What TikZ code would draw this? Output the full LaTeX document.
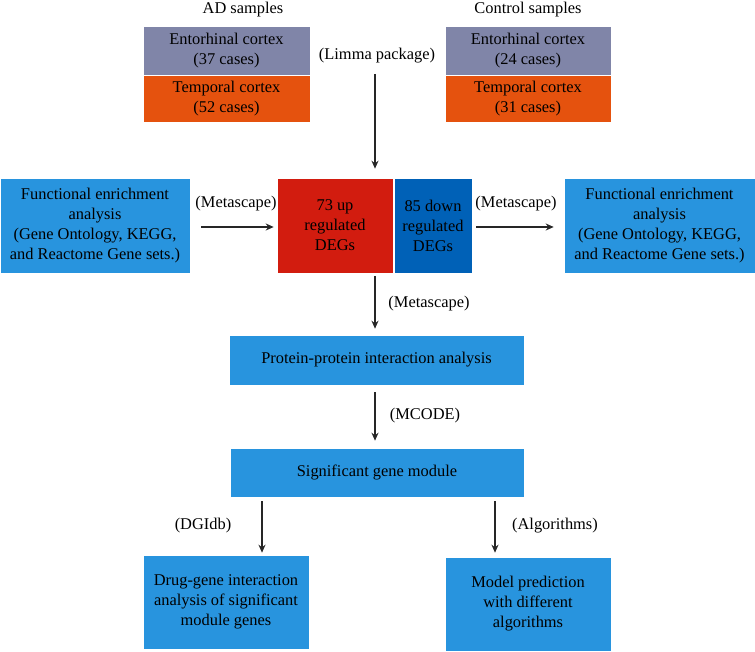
\documentclass[tikz,border=0pt]{standalone}
\usepackage{fontspec}
\setmainfont{Liberation Serif}
\usetikzlibrary{arrows.meta,calc}
\definecolor{purp}{HTML}{8085A8}
\definecolor{orng}{HTML}{E5520E}
\definecolor{lblue}{HTML}{2894DE}
\definecolor{redb}{HTML}{D21C0F}
\definecolor{dblue}{HTML}{0061B7}
\tikzset{
  box/.style={draw=white, line width=0.6pt, inner sep=0pt, align=center, font=\fontsize{16.4}{20}\selectfont},
  lab/.style={inner sep=0pt, font=\fontsize{16.4}{20}\selectfont},
  arr/.style={draw=black!85, line width=1.1pt, -{Stealth[length=8pt,width=7pt]}}
}
\begin{document}
\begin{tikzpicture}[x=1pt,y=-1pt]
\useasboundingbox (0,0) rectangle (755,652);
% headers
\node[lab] (adlab) at (243,10) {AD samples};
\node[lab] (ctllab) at (528,10) {Control samples};
% sample boxes
\node[box, fill=purp, minimum width=167pt, minimum height=49pt] (ade) at (226.5,51) {Entorhinal cortex\\(37 cases)};
\node[box, fill=orng, minimum width=167pt, minimum height=47pt] (adt) at (226.5,98.5) {Temporal cortex\\(52 cases)};
\node[box, fill=purp, minimum width=166pt, minimum height=49pt] (cte) at (528,51) {Entorhinal cortex\\(24 cases)};
\node[box, fill=orng, minimum width=166pt, minimum height=47pt] (ctt) at (528,98.5) {Temporal cortex\\(31 cases)};
\node[lab] (limma) at (377,56) {(Limma package)};
% middle row
\node[box, fill=lblue, minimum width=190pt, minimum height=95pt] (lf) at (95,225.5) {Functional enrichment\\analysis\\(Gene Ontology, KEGG,\\and Reactome Gene sets.)};
\node[box, fill=redb, minimum width=116pt, minimum height=95pt] (up) at (335,225.5) {73 up\\regulated\\DEGs};
\node[box, fill=dblue, minimum width=78pt, minimum height=95pt] (down) at (433,225.5) {85 down\\regulated\\DEGs};
\node[box, fill=lblue, minimum width=191pt, minimum height=95pt] (rf) at (659.5,225.5) {Functional enrichment\\analysis\\(Gene Ontology, KEGG,\\and Reactome Gene sets.)};
\node[lab] (ml) at (236,204) {(Metascape)};
\node[lab] (mr) at (516,204) {(Metascape)};
% lower chain
\node[box, fill=lblue, minimum width=295pt, minimum height=50pt] (ppi) at (376.5,360) {Protein-protein interaction analysis};
\node[box, fill=lblue, minimum width=294pt, minimum height=49pt] (sgm) at (377,472.5) {Significant gene module};
\node[box, fill=lblue, minimum width=166pt, minimum height=94pt] (dg) at (226,602) {Drug-gene interaction\\analysis of significant\\module genes};
\node[box, fill=lblue, minimum width=166pt, minimum height=94pt] (mp) at (528,604) {Model prediction\\with different\\algorithms};
\node[lab] (mc) at (429,304) {(Metascape)};
\node[lab] (mcode) at (425,416) {(MCODE)};
\node[lab] (dgi) at (203,526) {(DGIdb)};
\node[lab] (alg) at (555,526) {(Algorithms)};
% connectors
\coordinate (a0) at (375,74);
\draw[arr, shorten >=9pt] (a0) -- (a0 |- up.north);
\draw[arr, shorten <=11pt, shorten >=3pt] (lf.east |- 0,227) -- (up.west |- 0,227);
\draw[arr, shorten <=4pt, shorten >=10pt] (down.east |- 0,227) -- (rf.west |- 0,227);
\coordinate (a1) at (375,276);
\draw[arr, shorten >=6pt] (a1) -- (a1 |- ppi.north);
\coordinate (a2) at (375,392);
\draw[arr, shorten >=7pt] (a2) -- (a2 |- sgm.north);
\coordinate (dl) at (262,501);
\draw[arr, shorten >=2pt] (dl) -- (dl |- dg.north);
\coordinate (dr) at (495,501);
\draw[arr, shorten >=4pt] (dr) -- (dr |- mp.north);
\end{tikzpicture}
\end{document}
